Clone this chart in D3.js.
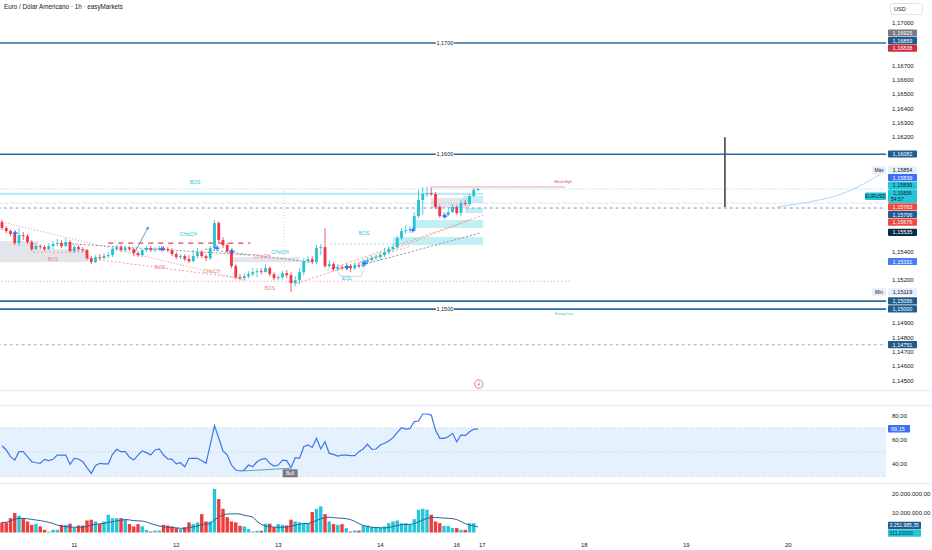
<!DOCTYPE html>
<html><head><meta charset="utf-8">
<script src="https://cdn.jsdelivr.net/npm/d3@7"></script>
<style>body{margin:0;background:#fff;} svg{display:block;font-family:"Liberation Sans",Arial,sans-serif;}</style>
</head><body><svg id="c" width="932" height="550"></svg>
<script>
// ---------- DATA ----------
const opens = [1.15608,1.15566,1.15545,1.15524,1.15461,1.15517,1.15510,1.15468,1.15419,1.15440,
1.15433,1.15419,1.15440,1.15454,1.15461,1.15440,1.15468,1.15405,1.15433,1.15419,
1.15412,1.15356,1.15328,1.15363,1.15356,1.15370,1.15377,1.15419,1.15433,1.15412,
1.15426,1.15419,1.15391,1.15377,1.15412,1.15426,1.15412,1.15419,1.15426,1.15419,
1.15412,1.15384,1.15363,1.15370,1.15349,1.15335,1.15370,1.15398,1.15370,1.15356,
1.15426,1.15601,1.15482,1.15447,1.15405,1.15300,1.15223,1.15216,1.15230,1.15244,
1.15258,1.15265,1.15258,1.15286,1.15244,1.15216,1.15223,1.15251,1.15237,1.15181,
1.15202,1.15258,1.15335,1.15349,1.15328,1.15426,1.15433,1.15300,1.15314,1.15279,
1.15293,1.15286,1.15300,1.15286,1.15307,1.15300,1.15328,1.15342,1.15356,1.15363,
1.15377,1.15398,1.15419,1.15433,1.15496,1.15545,1.15552,1.15559,1.15650,1.15762,
1.15804,1.15811,1.15804,1.15713,1.15650,1.15657,1.15678,1.15713,1.15671,1.15741,
1.15734,1.15790,1.15832];
const highs = [1.15622,1.15580,1.15559,1.15538,1.15566,1.15538,1.15524,1.15482,1.15461,1.15454,
1.15447,1.15461,1.15475,1.15489,1.15482,1.15496,1.15482,1.15447,1.15447,1.15433,
1.15419,1.15370,1.15377,1.15384,1.15391,1.15398,1.15433,1.15447,1.15447,1.15440,
1.15440,1.15426,1.15405,1.15419,1.15440,1.15440,1.15433,1.15440,1.15440,1.15433,
1.15426,1.15398,1.15384,1.15384,1.15377,1.15412,1.15426,1.15412,1.15384,1.15440,
1.15622,1.15615,1.15503,1.15461,1.15419,1.15314,1.15244,1.15251,1.15265,1.15286,
1.15286,1.15286,1.15314,1.15300,1.15258,1.15237,1.15265,1.15272,1.15258,1.15230,
1.15286,1.15356,1.15370,1.15370,1.15447,1.15454,1.15566,1.15342,1.15328,1.15314,
1.15307,1.15321,1.15314,1.15328,1.15321,1.15349,1.15363,1.15377,1.15384,1.15398,
1.15426,1.15440,1.15454,1.15510,1.15566,1.15587,1.15580,1.15678,1.15832,1.15853,
1.15854,1.15846,1.15818,1.15727,1.15678,1.15699,1.15734,1.15727,1.15762,1.15762,
1.15804,1.15846,1.15846];
const lows = [1.15552,1.15531,1.15510,1.15447,1.15440,1.15482,1.15454,1.15405,1.15412,1.15419,
1.15405,1.15412,1.15419,1.15440,1.15426,1.15433,1.15398,1.15391,1.15405,1.15398,
1.15342,1.15314,1.15321,1.15342,1.15349,1.15356,1.15363,1.15405,1.15398,1.15398,
1.15405,1.15370,1.15363,1.15363,1.15398,1.15398,1.15398,1.15405,1.15405,1.15398,
1.15370,1.15349,1.15349,1.15335,1.15321,1.15328,1.15356,1.15356,1.15335,1.15342,
1.15412,1.15461,1.15426,1.15391,1.15286,1.15209,1.15202,1.15202,1.15216,1.15230,
1.15223,1.15244,1.15258,1.15230,1.15202,1.15202,1.15209,1.15216,1.15119,1.15160,
1.15174,1.15237,1.15321,1.15314,1.15314,1.15377,1.15286,1.15286,1.15265,1.15265,
1.15272,1.15272,1.15258,1.15272,1.15286,1.15286,1.15314,1.15328,1.15342,1.15342,
1.15363,1.15384,1.15405,1.15419,1.15482,1.15524,1.15531,1.15545,1.15636,1.15657,
1.15783,1.15790,1.15699,1.15636,1.15636,1.15650,1.15671,1.15657,1.15650,1.15720,
1.15720,1.15783,1.15825];
const closes = [1.15566,1.15545,1.15524,1.15461,1.15517,1.15510,1.15468,1.15419,1.15440,1.15433,
1.15419,1.15440,1.15454,1.15461,1.15440,1.15468,1.15405,1.15433,1.15419,1.15412,
1.15356,1.15328,1.15363,1.15356,1.15370,1.15377,1.15419,1.15433,1.15412,1.15426,
1.15419,1.15391,1.15377,1.15412,1.15426,1.15412,1.15419,1.15426,1.15419,1.15412,
1.15384,1.15363,1.15370,1.15349,1.15335,1.15370,1.15398,1.15370,1.15356,1.15426,
1.15601,1.15482,1.15447,1.15405,1.15300,1.15223,1.15216,1.15230,1.15244,1.15258,
1.15265,1.15258,1.15286,1.15244,1.15216,1.15223,1.15251,1.15237,1.15181,1.15202,
1.15258,1.15335,1.15349,1.15328,1.15426,1.15433,1.15300,1.15314,1.15279,1.15293,
1.15286,1.15300,1.15286,1.15307,1.15300,1.15328,1.15342,1.15356,1.15363,1.15377,
1.15398,1.15419,1.15433,1.15496,1.15545,1.15552,1.15559,1.15650,1.15762,1.15804,
1.15811,1.15804,1.15713,1.15650,1.15657,1.15678,1.15713,1.15671,1.15741,1.15734,
1.15790,1.15832,1.15839];
const volumes = [5300000,5300000,7500000,10200000,8800000,7500000,5800000,4000000,4600000,3200000,
1400000,500000,1400000,1400000,4000000,4000000,4600000,2600000,3700000,3700000,
6300000,6700000,5800000,4400000,5800000,9300000,7500000,7500000,7500000,7000000,
4400000,3200000,4400000,3200000,1400000,500000,1000000,1000000,4000000,3700000,
3200000,2300000,1800000,2800000,5300000,4400000,5300000,9600000,5800000,5800000,
22800000,17500000,12400000,8000000,5800000,5300000,3500000,3200000,1800000,500000,
900000,900000,4600000,4600000,2800000,4400000,4000000,3700000,6700000,5800000,
5400000,4900000,4900000,10700000,12400000,13700000,9600000,5800000,4400000,4000000,
4400000,2300000,500000,1000000,1000000,3700000,3700000,2800000,2800000,2600000,
3200000,4900000,5800000,6300000,4900000,4900000,4000000,7000000,11900000,12400000,
11900000,9300000,5800000,4900000,3500000,3500000,2300000,2300000,1400000,1400000,
4900000,4900000,311];
const rsiValues = [55.3,51.8,46.3,43.5,50.4,50.4,46.3,42.1,41.3,40.8,
44.1,43,44.1,47.6,47.6,47.6,40,44.9,44.4,42.1,
37.2,32.6,38.8,40.8,40.3,40.3,48.2,52.3,50.4,50.4,
45.8,43.5,47.6,51,49.6,47.6,51.8,52.6,47.6,44.4,
44.1,40.3,41.3,38,44.9,44.9,44.9,43,40.8,56,
71.8,61.4,51,47.6,39.4,35.3,34.5,35.3,39.4,38,
42.1,44.1,44.9,40.8,38.6,39.4,43.5,43,37.2,45.4,
44.9,54.5,55.9,53.9,61.4,52.6,58.6,49,48.2,46.8,
47.6,47.6,47.1,47.1,50.4,52.6,56.5,52.3,52.6,55.9,
57.3,59.2,61.9,66.3,70.1,69,69.5,75.1,75.6,81.4,
81.4,80.5,68.2,61.4,61.4,62.7,65.5,58.6,64.1,63.6,
66.8,68.8,69.15];
const volMaLast = 3251985.35;
const volMaLength = 10;

const dayTickIndex = [17,41,65,89,107,113,137,161,185];
const dayTickLabels = ["11","12","13","14","16","17","18","19","20"];
const priceTicks = [1.145,1.146,1.147,1.148,1.149,1.150,1.151,1.152,1.153,1.154,1.155,1.156,1.157,1.158,1.159,1.160,1.161,1.162,1.163,1.164,1.165,1.166,1.167,1.168,1.169,1.170];
const rsiTicks = [40,60,80];
const volTicks = [10000000,20000000];

const levelPrices = [1.16859,1.16082,1.15056,1.15000];
const levelLabels = ["1,1700","1,1600","","1,1500"];

const priceBadges = [
  {v:1.16925,bg:"#787b86",fg:"#fff"},
  {v:1.16859,bg:"#1f5d8e",fg:"#fff"},
  {v:1.16838,bg:"#cf2b43",fg:"#fff"},
  {v:1.16082,bg:"#1f5d8e",fg:"#fff"},
  {v:1.15854,bg:"#e6eefa",fg:"#131722",tag:"Máx"},
  {v:1.15839,bg:"#3b6ff5",fg:"#fff"},
  {v:1.15839,bg:"#26c6da",fg:"#131722"},
  {v:1.15839,bg:"#26c6da",fg:"#131722",tag:"EURUSD",sub:"54:57"},
  {v:1.15763,bg:"#f0493e",fg:"#fff"},
  {v:1.15706,bg:"#1f5d8e",fg:"#fff"},
  {v:1.15676,bg:"#f0493e",fg:"#fff"},
  {v:1.15535,bg:"#0e2a48",fg:"#fff"},
  {v:1.15331,bg:"#4a7df2",fg:"#fff"},
  {v:1.15119,bg:"#e6eefa",fg:"#131722",tag:"Mín"},
  {v:1.15056,bg:"#1f5d8e",fg:"#fff"},
  {v:1.15000,bg:"#1f5d8e",fg:"#fff"},
  {v:1.14751,bg:"#1f5d8e",fg:"#fff"}
];

const zonesGrey = [[0,8.5,1.15475,1.15419],[0,20.2,1.15419,1.15328],[54.1,70.1,1.15363,1.15328],[101.4,110,1.15776,1.15706]];
const zonesCyan = [[108.5,113.2,1.15790,1.15741],[109,113.2,1.15706,1.15671],[96.7,113.2,1.15622,1.15566],[92,113.2,1.15503,1.15447]];
const smcLabels = [
  ["BOS",45.4,1.15874,"#26c6da"],["BOS",12,1.15335,"#f28080"],["BOS",37.2,1.15279,"#f28080"],
  ["CHoCH",43.8,1.15510,"#26c6da"],["CHoCH",49.4,1.15251,"#f28080"],["CHoCH",61.2,1.15356,"#f28080"],
  ["CHoCH",65.4,1.15384,"#26c6da"],["BOS",63,1.15132,"#f28080"],["BOS",85.2,1.15517,"#26c6da"],
  ["EQL",81.2,1.15202,"#26c6da"]
];
const crosses = [[3.1,1.15531],[37.6,1.15419],[50.6,1.15426],[54.1,1.15405],[81.2,1.15293],[85.4,1.15321],[96.7,1.15552],[104.2,1.15650]];
const salmonLines = [[[20,1.15356],[56,1.15216]],[[7.3,1.15398],[20,1.15398]],[[76.5,1.15272],[113.2,1.15657]],[[84.2,1.15328],[110.1,1.15622]],[[69.4,1.15181],[96,1.15440]]];
const greyLines = [[[13.6,1.15461],[58.4,1.15377]],[[47.8,1.15419],[72.5,1.15328]],[[81.9,1.15286],[112.5,1.15531]]];
const pinkDiag = [[0,1.15608],[57.2,1.15202]];
const projection = [[182.4,1.15713],[192.5,1.15758],[199.5,1.15815],[208,1.15965]];
const bullDiv = [[56.4,34.5],[67.8,36.7]];

// ---------- SCALES ----------
const AX = 886;
const x = d3.scaleLinear().domain([0,208]).range([2,886]);
const yP = d3.scaleLinear().domain([1.145,1.167]).range([380.7,65.7]);
const yR = d3.scaleLinear().domain([40,80]).range([464.3,415.7]);
const yV = d3.scaleLinear().domain([0,20000000]).range([532.5,494.3]);
const loc = d3.formatLocale({decimal:",",thousands:".",grouping:[3],currency:["",""]});
const fP = loc.format(".5f"), fR = loc.format(".2f"), fV = loc.format(",.2f");

const svg = d3.select("#c");
const defs = svg.append("defs");
defs.append("clipPath").attr("id","cm").append("rect").attr("x",0).attr("y",0).attr("width",AX).attr("height",390);
defs.append("clipPath").attr("id","cr").append("rect").attr("x",0).attr("y",406).attr("width",AX).attr("height",77);
defs.append("clipPath").attr("id","cv").append("rect").attr("x",0).attr("y",484).attr("width",AX).attr("height",52);

[390.5,405.5,483.5].forEach(y=>svg.append("line").attr("x1",0).attr("x2",932).attr("y1",y).attr("y2",y).attr("stroke","#eceef2").attr("stroke-width",1.5));

// ---------- MAIN PANE ----------
const m = svg.append("g").attr("clip-path","url(#cm)");
const line = d3.line().x(d=>x(d[0])).y(d=>yP(d[1]));

zonesGrey.forEach(z=>m.append("rect").attr("x",x(z[0])-2).attr("width",x(z[1])-x(z[0])+2).attr("y",yP(z[2])).attr("height",yP(z[3])-yP(z[2])).attr("fill","#d1d4dc").attr("opacity",0.6));
zonesCyan.forEach(z=>m.append("rect").attr("x",x(z[0])).attr("width",x(z[1])-x(z[0])).attr("y",yP(z[2])).attr("height",yP(z[3])-yP(z[2])).attr("fill","#b2ebf2").attr("opacity",0.8));
m.append("rect").attr("x",x(0)-2).attr("width",x(113.2)-x(0)+2).attr("y",yP(1.15813)).attr("height",yP(1.15797)-yP(1.15813)).attr("fill","#b9ecf3");

const hl = (p,i0,i1,stroke,dash,w)=>m.append("line").attr("x1",x(i0)).attr("x2",x(i1)).attr("y1",yP(p)).attr("y2",yP(p)).attr("stroke",stroke).attr("stroke-dasharray",dash).attr("stroke-width",w);
hl(1.15839,-1,210,"#5fd3e3","1,2",0.8);
hl(1.15740,-1,210,"#b2b5be","1,2",0.9);
hl(1.15706,-1,210,"#6a9bd0","3,3",1);
hl(1.14751,-1,210,"#8fb3d8","3,3",1);
hl(1.15195,-1,133.6,"#e58ab5","1,2.5",1);
hl(1.15454,77.2,93.6,"#7fdbe7","2,2",0.8);
hl(1.15461,25,58.4,"#f23645","5,5",1.4);
hl(1.15853,100.7,132.5,"#f5a3a3","",1);
m.append("line").attr("x1",x(66.4)).attr("x2",x(66.4)).attr("y1",yP(1.15825)).attr("y2",yP(1.15286)).attr("stroke","#e9b8ca").attr("stroke-dasharray","1,2").attr("stroke-width",0.8);
m.append("path").attr("d",line(pinkDiag)).attr("fill","none").attr("stroke","#e58ab5").attr("stroke-dasharray","1,2").attr("stroke-width",1);
salmonLines.forEach(s=>m.append("path").attr("d",line(s)).attr("fill","none").attr("stroke","#f4a09a").attr("stroke-dasharray","2,2").attr("stroke-width",1));
greyLines.forEach(s=>m.append("path").attr("d",line(s)).attr("fill","none").attr("stroke","#8d9099").attr("stroke-dasharray","2,2").attr("stroke-width",1));

levelPrices.forEach((p,i)=>{
  m.append("line").attr("x1",0).attr("x2",AX).attr("y1",yP(p)).attr("y2",yP(p)).attr("stroke","#2e6a9e").attr("stroke-width",1.6);
  if(levelLabels[i]){
    const cx = x(104.2);
    m.append("rect").attr("x",cx-9).attr("y",yP(p)-3).attr("width",18).attr("height",6).attr("fill","#fff");
    m.append("text").attr("x",cx).attr("y",yP(p)+2).attr("text-anchor","middle").attr("font-size",5.5).attr("fill","#131722").text(levelLabels[i]);
  }
});

const bars = d3.range(closes.length);
const up = i=>closes[i]>=opens[i];
const cUp="#22c1d6", cDn="#f23645";
m.append("g").selectAll("line").data(bars).join("line")
  .attr("x1",i=>x(i)).attr("x2",i=>x(i)).attr("y1",i=>yP(highs[i])).attr("y2",i=>yP(lows[i]))
  .attr("stroke",i=>up(i)?cUp:cDn).attr("stroke-width",0.8);
m.append("g").selectAll("rect").data(bars).join("rect")
  .attr("x",i=>x(i)-1.4).attr("width",2.8)
  .attr("y",i=>yP(Math.max(opens[i],closes[i])))
  .attr("height",i=>Math.max(0.8,Math.abs(yP(opens[i])-yP(closes[i]))))
  .attr("fill",i=>up(i)?cUp:cDn);

crosses.forEach(c=>{
  const cx=x(c[0]), cy=yP(c[1]);
  m.append("path").attr("d",`M${cx-2.5},${cy}H${cx+2.5}M${cx},${cy-2.5}V${cy+2.5}`).attr("stroke","#2962ff").attr("stroke-width",1.2);
});
{
  const a=[[31.3,1.15398],[34.4,1.15573]];
  const x1=x(a[0][0]),y1=yP(a[0][1]),x2=x(a[1][0]),y2=yP(a[1][1]);
  m.append("line").attr("x1",x1).attr("y1",y1).attr("x2",x2).attr("y2",y2).attr("stroke","#4a90c8").attr("stroke-width",0.9);
  const ang=Math.atan2(y2-y1,x2-x1);
  const h=(t)=>[x2-3*Math.cos(ang+t),y2-3*Math.sin(ang+t)];
  m.append("path").attr("d",`M${h(0.5)}L${x2},${y2}L${h(-0.5)}`).attr("fill","none").attr("stroke","#4a90c8").attr("stroke-width",0.9);
}
smcLabels.forEach(l=>m.append("text").attr("x",x(l[1])).attr("y",yP(l[2])).attr("text-anchor","middle").attr("font-size",5).attr("fill",l[3]).text(l[0]));
m.append("path").attr("d",`M${x(79)},${yP(1.15265)}L${x(79.6)},${yP(1.15230)}H${x(84.5)}L${x(85)},${yP(1.15265)}`).attr("fill","none").attr("stroke","#9fb8d8").attr("stroke-width",0.6);
m.append("text").attr("x",x(132)).attr("y",yP(1.15881)).attr("text-anchor","middle").attr("font-size",3.6).attr("fill","#f23645").text("Weak High");
m.append("text").attr("x",x(132.2)).attr("y",yP(1.14958)).attr("text-anchor","middle").attr("font-size",3.6).attr("fill","#26c6da").text("Strong Low");

m.append("line").attr("x1",x(170.1)).attr("x2",x(170.1)).attr("y1",yP(1.16200)).attr("y2",yP(1.15713)).attr("stroke","#444").attr("stroke-width",1.6);
m.append("path").attr("d",d3.line().x(d=>x(d[0])).y(d=>yP(d[1])).curve(d3.curveBasis)(projection)).attr("fill","none").attr("stroke","#b7d4ec").attr("stroke-width",1);
{
  const cx=x(112.2), cy=yP(1.14476);
  m.append("circle").attr("cx",cx).attr("cy",cy).attr("r",4.2).attr("fill","#fff").attr("stroke","#d46a9c").attr("stroke-width",0.9);
  m.append("path").attr("d",`M${cx+1},${cy-2}L${cx-1},${cy+0.3}H${cx+1}L${cx-1},${cy+2}`).attr("fill","none").attr("stroke","#d46a9c").attr("stroke-width",0.7);
}

// ---------- RSI PANE ----------
const r = svg.append("g").attr("clip-path","url(#cr)");
r.append("rect").attr("x",0).attr("width",AX).attr("y",yR(70)).attr("height",yR(30)-yR(70)).attr("fill","#e5f1fc");
[70,50,30].forEach(v=>r.append("line").attr("x1",0).attr("x2",AX).attr("y1",yR(v)).attr("y2",yR(v)).attr("stroke","#b8c2d0").attr("stroke-dasharray","1,2").attr("stroke-width",0.8));
r.append("path").attr("d",d3.line().x((d,i)=>x(i)).y(d=>yR(d))(rsiValues)).attr("fill","none").attr("stroke","#3e74f0").attr("stroke-width",1.2);
r.append("path").attr("d",d3.line().x(d=>x(d[0])).y(d=>yR(d[1]))(bullDiv)).attr("fill","none").attr("stroke","#5fa89b").attr("stroke-width",1);
{
  const bx=x(bullDiv[1][0]), by=yR(bullDiv[1][1]);
  r.append("rect").attr("x",bx-7.5).attr("y",by+1).attr("width",15).attr("height",8).attr("fill","#787b86");
  r.append("text").attr("x",bx).attr("y",by+7).attr("text-anchor","middle").attr("font-size",5).attr("fill","#fff").text("Bull");
}

// ---------- VOLUME PANE ----------
const v = svg.append("g").attr("clip-path","url(#cv)");
v.selectAll("rect").data(bars).join("rect")
  .attr("x",i=>x(i)-1.7).attr("width",3.4)
  .attr("y",i=>yV(volumes[i])).attr("height",i=>yV(0)-yV(volumes[i]))
  .attr("fill",i=>up(i)?"#26c6da":"#ef3b3b");
const ma = bars.map(i=>d3.mean(volumes.slice(Math.max(0,i-volMaLength+1),i+1)));
v.append("path").attr("d",d3.line().x((d,i)=>x(i)).y(d=>yV(d))(ma)).attr("fill","none").attr("stroke","#2a6496").attr("stroke-width",1);

// ---------- AXES / BADGES ----------
function dodge(items){
  items.sort((a,b)=>a.y0-b.y0);
  let cl = items.map(it=>({m:[it]}));
  const place=c=>{let off=0;const offs=c.m.map(it=>{const o=off+it.h/2;off+=it.h;return o;});c.H=off;c.top=d3.mean(c.m.map((it,j)=>it.y0-offs[j]));c.m.forEach((it,j)=>it.y=c.top+offs[j]);};
  cl.forEach(place);
  let changed=true;
  while(changed){changed=false;
    for(let k=0;k<cl.length-1;k++){
      if(cl[k].top+cl[k].H>cl[k+1].top+0.01){cl[k].m=cl[k].m.concat(cl[k+1].m);cl.splice(k+1,1);place(cl[k]);changed=true;break;}
    }}
  return items;
}
const pb = priceBadges.map(b=>Object.assign({y0:yP(b.v),h:b.sub?14:7.6},b));
dodge(pb);

const axisText = (y,t)=>svg.append("text").attr("x",892).attr("y",y+2).attr("font-size",6).attr("fill","#131722").text(t);
priceTicks.forEach(p=>{
  const y=yP(p);
  if(pb.some(b=>Math.abs(b.y-y)<b.h/2+2.6)) return;
  axisText(y,fP(p));
});
rsiTicks.forEach(t=>axisText(yR(t),fR(t)));
volTicks.forEach(t=>axisText(yV(t),fV(t)));
dayTickIndex.forEach((ix,k)=>svg.append("text").attr("x",x(ix)).attr("y",547).attr("text-anchor","middle").attr("font-size",6).attr("fill","#131722").text(dayTickLabels[k]));

pb.forEach(b=>{
  const top=b.y-b.h/2;
  svg.append("rect").attr("x",888).attr("y",top).attr("width",29).attr("height",b.h-0.4).attr("rx",0.8).attr("fill",b.bg);
  svg.append("text").attr("x",902.5).attr("y",b.sub?top+5.3:b.y+1.9).attr("text-anchor","middle").attr("font-size",b.sub?5.1:5.5).attr("fill",b.fg).text(fP(b.v));
  if(b.sub) svg.append("text").attr("x",891).attr("y",top+11.9).attr("font-size",5.1).attr("fill",b.fg).text(b.sub);
  if(b.tag){
    const w = b.tag.length>4?22:15;
    svg.append("rect").attr("x",887-w).attr("y",b.y-3.8).attr("width",w-1).attr("height",7.4).attr("rx",0.8).attr("fill",b.bg);
    svg.append("text").attr("x",887-w/2-0.5).attr("y",b.y+1.8).attr("text-anchor","middle").attr("font-size",4.8).attr("fill","#131722").text(b.tag);
  }
});
{
  const v0=rsiValues[rsiValues.length-1], y=yR(v0);
  svg.append("rect").attr("x",888).attr("y",y-3.8).attr("width",22).attr("height",7.4).attr("rx",0.8).attr("fill","#3b6ff5");
  svg.append("text").attr("x",891).attr("y",y+1.9).attr("font-size",5.5).attr("fill","#fff").text(fR(v0));
}
{
  const vb=[{y0:yV(volMaLast),h:7.6,t:fV(volMaLast),bg:"#1f5d8e",fg:"#fff"},{y0:yV(volumes[volumes.length-1]),h:7.6,t:loc.format(".5f")(volumes[volumes.length-1]),bg:"#26c6da",fg:"#0e2a48"}];
  dodge(vb);
  vb.forEach(b=>{
    svg.append("rect").attr("x",888).attr("y",b.y-3.8).attr("width",33).attr("height",7.4).attr("rx",0.8).attr("fill",b.bg);
    svg.append("text").attr("x",889.5).attr("y",b.y+1.8).attr("font-size",5).attr("fill",b.fg).text(b.t);
  });
}
svg.append("rect").attr("x",890.5).attr("y",3.5).attr("width",32).attr("height",11).attr("rx",2).attr("fill","#fff").attr("stroke","#e0e3eb");
svg.append("text").attr("x",894).attr("y",11).attr("font-size",5.5).attr("fill","#131722").text("USD");
svg.append("text").attr("x",4).attr("y",9).attr("font-size",6.3).attr("fill","#131722").text("Euro / Dólar Americano · 1h · easyMarkets");
</script></body></html>
